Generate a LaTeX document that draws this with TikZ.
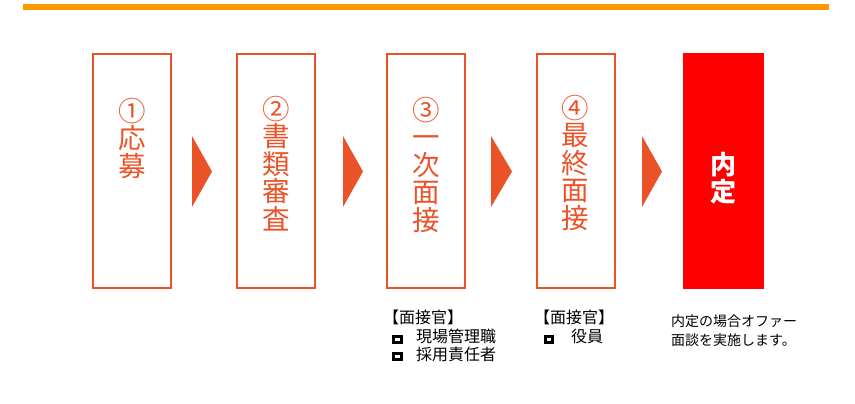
\documentclass[tikz,border=0pt]{standalone}
\usepackage{fontspec}
\setmainfont{Noto Sans CJK JP}
\definecolor{stepred}{RGB}{234,82,40}
\definecolor{topline}{RGB}{255,153,0}
\definecolor{finalred}{RGB}{255,0,0}
\tikzset{
  stepbox/.style={draw=stepred, line width=2pt, inner sep=0pt, minimum width=78pt, minimum height=234pt},
  finalbox/.style={fill=finalred, inner sep=0pt, minimum width=81pt, minimum height=236pt},
  steptext/.style={text=stepred, inner sep=0pt, align=center, font=\fontsize{27.5}{27.5}\selectfont},
  finaltext/.style={text=white, inner sep=0pt, align=center, font=\fontsize{26}{27}\selectfont\bfseries},
  notetext/.style={inner sep=0pt, align=left, anchor=north west, font=\fontsize{16}{18.5}\selectfont},
  bullet/.style={draw=black, line width=3pt, inner sep=0pt, minimum width=7.5pt, minimum height=6pt},
  steparrow/.style={fill=stepred}
}
\begin{document}
\begin{tikzpicture}[x=1pt,y=-1pt]
\useasboundingbox (0,0) rectangle (855,404);
% top line
\draw[topline, line width=6pt] (23,7.5) -- (829,7.5);
% boxes
\node[stepbox] (b1) at (132,171) {};
\node[stepbox] (b2) at (276,171) {};
\node[stepbox] (b3) at (426,171) {};
\node[stepbox] (b4) at (575.5,171) {};
\node[finalbox] (b5) at (723.5,171) {};
% texts
\node[steptext, anchor=north] (t1) at (132,98) {①\\応\\募};
\node[steptext, anchor=north] (t2) at (276,96) {②\\書\\類\\審\\査};
\node[steptext, anchor=north] (t3) at (426,97) {③\\一\\次\\面\\接};
\node[steptext, anchor=north] (t4) at (575.5,95) {④\\最\\終\\面\\接};
\node[finaltext] (t5) at (723.5,178) {内\\定};
% arrows
\fill[steparrow] (192,136) -- (212,171.5) -- (192,207) -- cycle;
\fill[steparrow] (343,136) -- (363,171.5) -- (343,207) -- cycle;
\fill[steparrow] (491,136) -- (512,171.5) -- (491,207) -- cycle;
\fill[steparrow] (642,136) -- (662,171.5) -- (642,207) -- cycle;
% notes
\node[notetext] (n3) at (383,310) {【面接官】};
\node[bullet] (q31) at (397.5,339) {};
\node[notetext] (n31) at (416,328.5) {現場管理職};
\node[bullet] (q32) at (397.5,356.5) {};
\node[notetext] (n32) at (416,347) {採用責任者};
\node[notetext] (n4) at (534,310) {【面接官】};
\node[bullet] (q41) at (549,339) {};
\node[notetext] (n41) at (571,328.5) {役員};
\node[notetext, font=\fontsize{14}{19}\selectfont] (n5) at (671,315) {内定の場合オファー\\面談を実施します。};
\end{tikzpicture}
\end{document}
